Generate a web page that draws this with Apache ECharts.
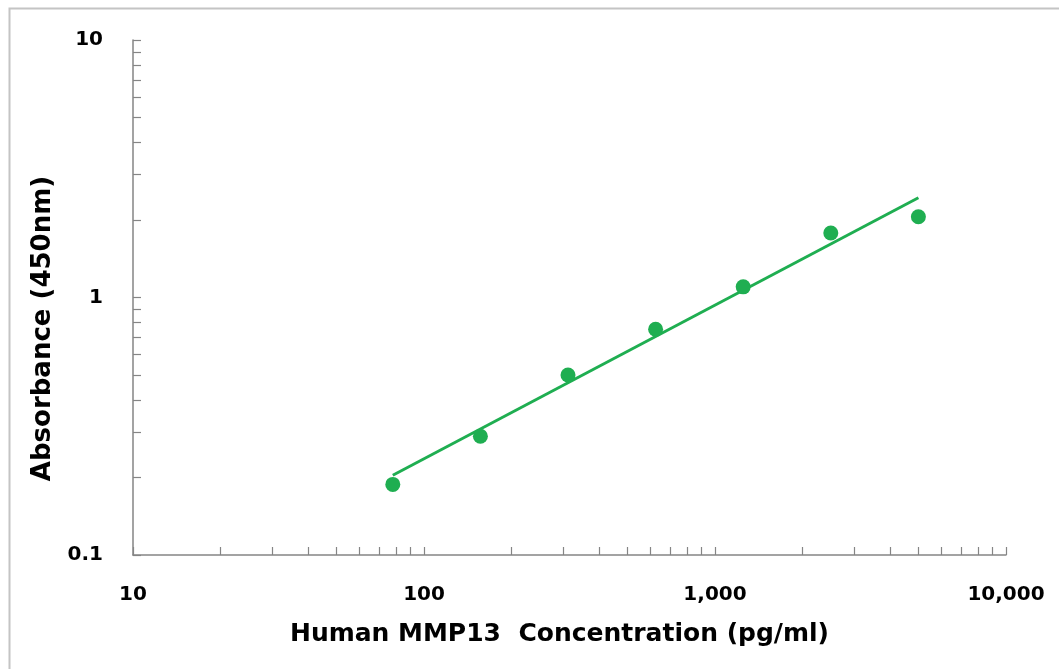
<!DOCTYPE html>
<html>
<head>
<meta charset="utf-8">
<script src="https://cdn.jsdelivr.net/npm/echarts@6/dist/echarts.min.js"></script>
<style>html,body{margin:0;padding:0;background:#fff;}#c{width:1059px;height:669px;}</style>
</head>
<body>
<div id="c"></div>
<script>
var concentrations = [78.125, 156.25, 312.5, 625, 1250, 2500, 5000];
var absorbance = [0.188, 0.289, 0.500, 0.753, 1.10, 1.78, 2.06];
var fitX = [78.125, 5000];
var fitY = [0.204, 2.44];
var xTickLabels = [10, 100, 1000, 10000];
var yTickLabels = [0.1, 1, 10];
var xMinorTicks = [10,20,30,40,50,60,70,80,90,100,200,300,400,500,600,700,800,900,1000,2000,3000,4000,5000,6000,7000,8000,9000,10000];
var yMinorTicks = [0.1,0.2,0.3,0.4,0.5,0.6,0.7,0.8,0.9,1,2,3,4,5,6,7,8,9,10];

var chart = echarts.init(document.getElementById('c'));
var font = 'DejaVu Sans';
var axisColor = '#858585';
var green = '#1fae51';
chart.setOption({
  animation: false,
  backgroundColor: '#ffffff',
  graphic: [{
    type: 'rect', left: 7, top: 6,
    shape: {width: 1080, height: 700},
    style: {fill: 'none', stroke: '#c4c4c4', lineWidth: 2}, silent: true, z: -1
  }],
  grid: {left: 133, right: 53, top: 40, bottom: 114, containLabel: false},
  xAxis: {
    type: 'log', logBase: 10, min: 10, max: 10000,
    splitLine: {show: false},
    axisLine: {lineStyle: {color: axisColor, width: 1.5}},
    axisTick: {show: true, inside: true, length: 8, lineStyle: {color: axisColor, width: 1.2}, customValues: xMinorTicks},
    axisLabel: {
      customValues: xTickLabels, margin: 30,
      color: '#000', fontFamily: font, fontWeight: 'bold', fontSize: 20,
      formatter: function (v) { return Number(v).toLocaleString('en-US'); }
    },
    name: 'Human MMP13  Concentration (pg/ml)',
    nameLocation: 'middle', nameGap: 67,
    nameTextStyle: {color: '#000', fontFamily: font, fontWeight: 'bold', fontSize: 25, padding: [0, 20, 0, 0]}
  },
  yAxis: {
    type: 'log', logBase: 10, min: 0.1, max: 10,
    splitLine: {show: false},
    axisLine: {lineStyle: {color: axisColor, width: 1.5}},
    axisTick: {show: true, inside: true, length: 8, lineStyle: {color: axisColor, width: 1.2}, customValues: yMinorTicks},
    axisLabel: {
      customValues: yTickLabels, margin: 30,
      color: '#000', fontFamily: font, fontWeight: 'bold', fontSize: 20,
      formatter: function (v) { return String(v); }
    },
    name: 'Absorbance (450nm)',
    nameLocation: 'middle', nameGap: 73,
    nameTextStyle: {color: '#000', fontFamily: font, fontWeight: 'bold', fontSize: 26, padding: [0, 62, 0, 0]}
  },
  series: [{
    type: 'line',
    data: fitX.map(function (x, i) { return [x, fitY[i]]; }),
    symbol: 'none',
    lineStyle: {color: green, width: 3},
    z: 2
  }, {
    type: 'scatter',
    data: concentrations.map(function (x, i) { return [x, absorbance[i]]; }),
    symbol: 'circle', symbolSize: 15,
    itemStyle: {color: green, opacity: 1},
    z: 3
  }]
});
</script>
</body>
</html>
